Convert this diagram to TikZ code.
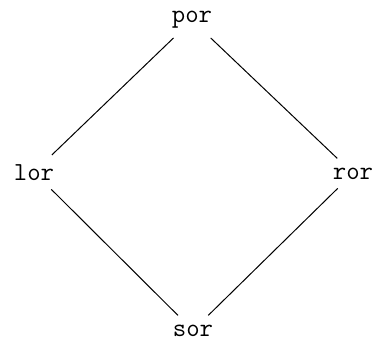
\documentclass[tikz,border=0pt]{standalone}
\usepackage{tikz}
\usetikzlibrary{positioning}

\begin{document}
\begin{tikzpicture}[x=1pt, y=1pt, every node/.style={font=\fontsize{13}{15}\selectfont\ttfamily}]
			\tikzset{elem/.style={inner sep=3pt, anchor=base},
				rel/.style={line width=0.5pt, shorten <=2pt, shorten >=2pt}}
			\useasboundingbox (0,0) rectangle (189,171.5);
			\node[elem] (por) at (96,160) {por};
			\node[elem] (lor) at (17,81.5) {lor};
			\node[elem] (ror) at (176.5,82) {ror};
			\node[elem] (sor) at (96.5,3.5) {sor};
			\draw[rel] (por) -- (lor);
			\draw[rel] (por) -- (ror);
			\draw[rel] (lor) -- (sor);
			\draw[rel] (ror) -- (sor);
		\end{tikzpicture}
\end{document}
